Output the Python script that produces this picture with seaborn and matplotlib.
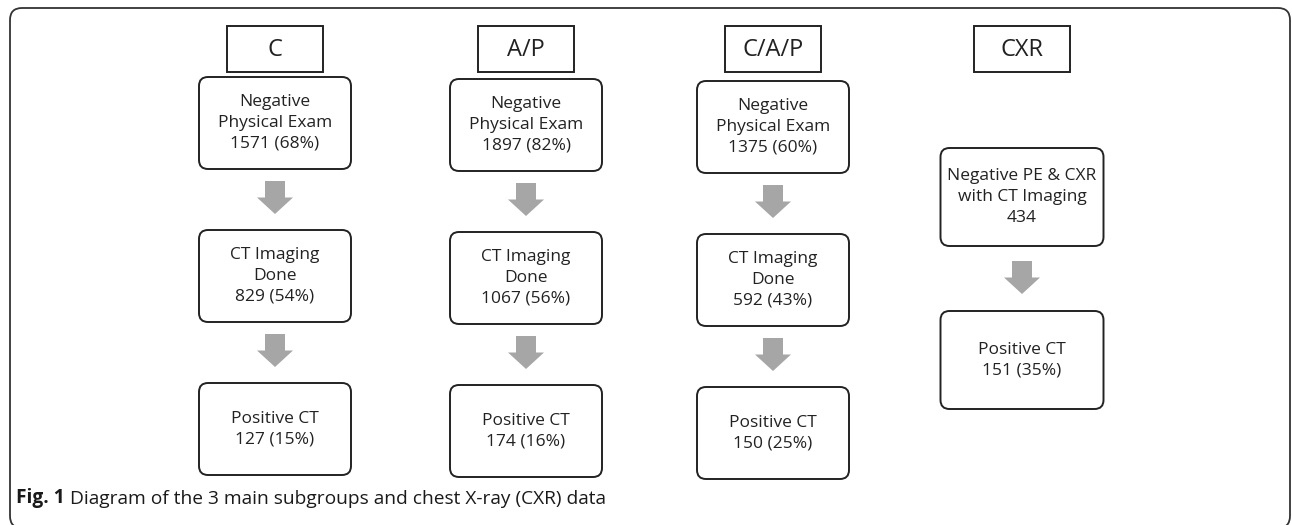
import matplotlib.pyplot as plt
import seaborn as sns
from matplotlib.patches import FancyBboxPatch, Rectangle, Polygon

# ---------------------------------------------------------
# Data
# ---------------------------------------------------------
groups = ["C", "A/P", "C/A/P", "CXR"]
neg_pe_n = [1571, 1897, 1375]
neg_pe_pct = [68, 82, 60]
ct_done_n = [829, 1067, 592]
ct_done_pct = [54, 56, 43]
pos_ct_n = [127, 174, 150, 151]
pos_ct_pct = [15, 16, 25, 35]
cxr_neg_ct_n = 434
caption_bold = "Fig. 1"
caption_text = "Diagram of the 3 main subgroups and chest X-ray (CXR) data"

# ---------------------------------------------------------
# Style
# ---------------------------------------------------------
sns.set_theme(style="white")
plt.rcParams['font.family'] = ['Open Sans', 'DejaVu Sans']
TEXT_C = "#222222"
ARROW_C = "#a6a6a6"
W, H = 1292, 525

fig = plt.figure(figsize=(W / 100, H / 100), dpi=100)
ax = fig.add_axes([0, 0, 1, 1])
ax.set_xlim(0, W)
ax.set_ylim(H, 0)
ax.axis("off")

# outer rounded frame (bottom runs just off the canvas)
ax.add_patch(FancyBboxPatch((10, 8), 1280, 520, boxstyle="round,pad=0,rounding_size=12",
                            fc="white", ec="#333333", lw=1.3))


def header(cx, label):
    ax.add_patch(Rectangle((cx - 48, 26), 96, 46, fc="white", ec="#222222", lw=1.4))
    ax.text(cx, 50, label, ha="center", va="center", fontsize=17, color=TEXT_C)


def box(cx, top, w, h, txt):
    ax.add_patch(FancyBboxPatch((cx - w / 2, top), w, h, boxstyle="round,pad=0,rounding_size=9",
                                fc="white", ec="#222222", lw=1.4))
    ax.text(cx, top + h / 2, txt, ha="center", va="center", fontsize=12.5, color=TEXT_C,
            linespacing=1.38)


def arrow(cx, top, h=33):
    sw, hw = 10, 18
    mid = top + h * 0.5
    pts = [(cx - sw, top), (cx + sw, top), (cx + sw, mid), (cx + hw, mid),
           (cx, top + h), (cx - hw, mid), (cx - sw, mid)]
    ax.add_patch(Polygon(pts, closed=True, fc=ARROW_C, ec="none"))


# three main subgroups
centers = [275, 526, 773]
offsets = [0, 2, 4]
for i in range(3):
    cx, dy = centers[i], offsets[i]
    header(cx, groups[i])
    box(cx, 77 + dy, 152, 92, f"Negative\nPhysical Exam\n{neg_pe_n[i]} ({neg_pe_pct[i]}%)")
    arrow(cx, 181 + dy)
    box(cx, 230 + dy, 152, 92, f"CT Imaging\nDone\n{ct_done_n[i]} ({ct_done_pct[i]}%)")
    arrow(cx, 334 + dy)
    box(cx, 383 + dy, 152, 92, f"Positive CT\n{pos_ct_n[i]} ({pos_ct_pct[i]}%)")

# CXR column
cx = 1022
header(cx, groups[3])
box(cx, 148, 163, 98, f"Negative PE & CXR\nwith CT Imaging\n{cxr_neg_ct_n}")
arrow(cx, 261)
box(cx, 311, 163, 98, f"Positive CT\n{pos_ct_n[3]} ({pos_ct_pct[3]}%)")

# caption
t1 = ax.text(16, 498, caption_bold, ha="left", va="center", fontsize=13.8,
             fontweight="bold", color="#1a1a1a")
ax.annotate(" " + caption_text, xy=(1, 0), xycoords=t1, ha="left", va="bottom",
            fontsize=13.8, color="#1a1a1a")

fig.savefig("out.png", dpi=100)
